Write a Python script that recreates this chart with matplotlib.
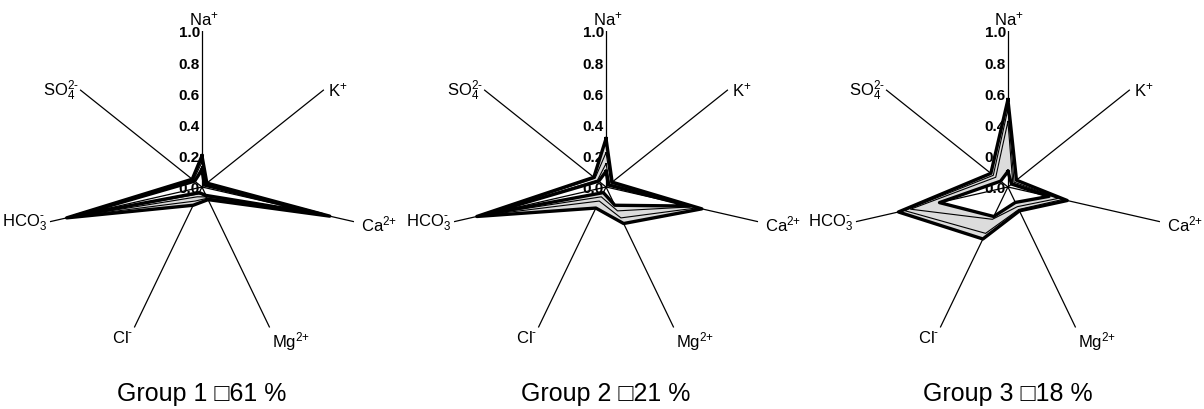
import numpy as np
import matplotlib
matplotlib.use("Agg")
import matplotlib.pyplot as plt

plt.rcParams['font.family'] = ['Liberation Sans', 'DejaVu Sans']
plt.rcParams['mathtext.fontset'] = 'custom'
plt.rcParams['mathtext.rm'] = 'Liberation Sans'
plt.rcParams['mathtext.it'] = 'Liberation Sans:italic'
plt.rcParams['mathtext.bf'] = 'Liberation Sans:bold'

# ions, clockwise from the top
ions = ['Na$^{\\text{+}}$', 'K$^{\\text{+}}$', 'Ca$^{\\text{2+}}$', 'Mg$^{\\text{2+}}$',
        'Cl$^{\\text{-}}$', 'HCO$_3^{\\text{-}}$', 'SO$_4^{\\text{2-}}$']
rticks = [0.0, 0.2, 0.4, 0.6, 0.8, 1.0]

group_titles = ['Group 1 \u25a161 %', 'Group 2 \u25a121 %', 'Group 3 \u25a118 %']

# normalised concentrations of the samples in each group
# order: Na, K, Ca, Mg, Cl, HCO3, SO4
group1 = [
    [0.20, 0.03, 0.84, 0.09, 0.13, 0.88, 0.08],
    [0.16, 0.03, 0.82, 0.08, 0.10, 0.86, 0.07],
    [0.13, 0.02, 0.80, 0.07, 0.07, 0.89, 0.06],
    [0.11, 0.02, 0.79, 0.06, 0.05, 0.84, 0.06],
    [0.18, 0.04, 0.83, 0.08, 0.04, 0.87, 0.08],
]
group2 = [
    [0.31, 0.05, 0.63, 0.26, 0.15, 0.85, 0.10],
    [0.22, 0.04, 0.60, 0.22, 0.10, 0.83, 0.09],
    [0.15, 0.03, 0.57, 0.17, 0.07, 0.81, 0.07],
    [0.10, 0.02, 0.55, 0.13, 0.04, 0.80, 0.06],
]
group3 = [
    [0.56, 0.07, 0.39, 0.17, 0.37, 0.72, 0.14],
    [0.50, 0.05, 0.36, 0.16, 0.33, 0.68, 0.12],
    [0.42, 0.04, 0.33, 0.14, 0.23, 0.64, 0.10],
    [0.10, 0.03, 0.27, 0.11, 0.21, 0.45, 0.06],
]
groups = [group1, group2, group3]

# label placement (offset in points, alignment)
label_style = [
    ((1, 3), 'center', 'bottom'),
    ((3, 0), 'left', 'center'),
    ((5, -1), 'left', 'center'),
    ((2, -1), 'left', 'top'),
    ((-1, -1), 'right', 'top'),
    ((-2, 0), 'right', 'center'),
    ((-1, 0), 'right', 'center'),
]

n = len(ions)
theta = np.arange(n) * 2 * np.pi / n
theta_c = np.append(theta, 2 * np.pi)

fig = plt.figure(figsize=(12.04, 4.10), dpi=100)

lefts = [0.0382, 0.3738, 0.7076]
for k, data in enumerate(groups):
    ax = fig.add_axes([lefts[k], 0.161, 0.2591, 0.761], projection='polar')
    ax.set_theta_zero_location('N')
    ax.set_theta_direction(-1)
    ax.set_ylim(0, 1)
    ax.set_xticks(theta)
    ax.set_xticklabels([])
    ax.set_yticks([])
    ax.xaxis.grid(True, color='black', linewidth=0.9)
    ax.spines['polar'].set_visible(False)
    ax.set_facecolor('none')

    # radial scale on the Na axis
    for v in rticks:
        ax.annotate('%.1f' % v, xy=(0, v), xytext=(-1.5, -1), textcoords='offset points',
                    ha='right', va='center', fontsize=11, fontweight='bold',
                    zorder=1, annotation_clip=False)

    arr = np.array(data)
    rmax = arr.max(axis=0)
    rmin = arr.min(axis=0)
    rmax_c = np.append(rmax, rmax[0])
    rmin_c = np.append(rmin, rmin[0])

    # band between min and max
    ax.fill(np.concatenate([theta_c, theta_c[::-1]]),
            np.concatenate([rmax_c, rmin_c[::-1]]),
            color='#dcdcdc', linewidth=0, zorder=2)

    for row in data:
        r = np.append(row, row[0])
        ax.plot(theta_c, r, color='black', linewidth=0.8, zorder=3)
    ax.plot(theta_c, rmax_c, color='black', linewidth=2.4, zorder=4)
    ax.plot(theta_c, rmin_c, color='black', linewidth=2.4, zorder=4)

    for i, lab in enumerate(ions):
        off, ha, va = label_style[i]
        ax.annotate(lab, xy=(theta[i], 1.0), xytext=off, textcoords='offset points',
                    ha=ha, va=va, fontsize=12, annotation_clip=False)

    fig.text(lefts[k] + 0.2591 / 2, 0.04, group_titles[k], ha='center', va='center',
             fontsize=18)

fig.savefig('out.png', dpi=100)
